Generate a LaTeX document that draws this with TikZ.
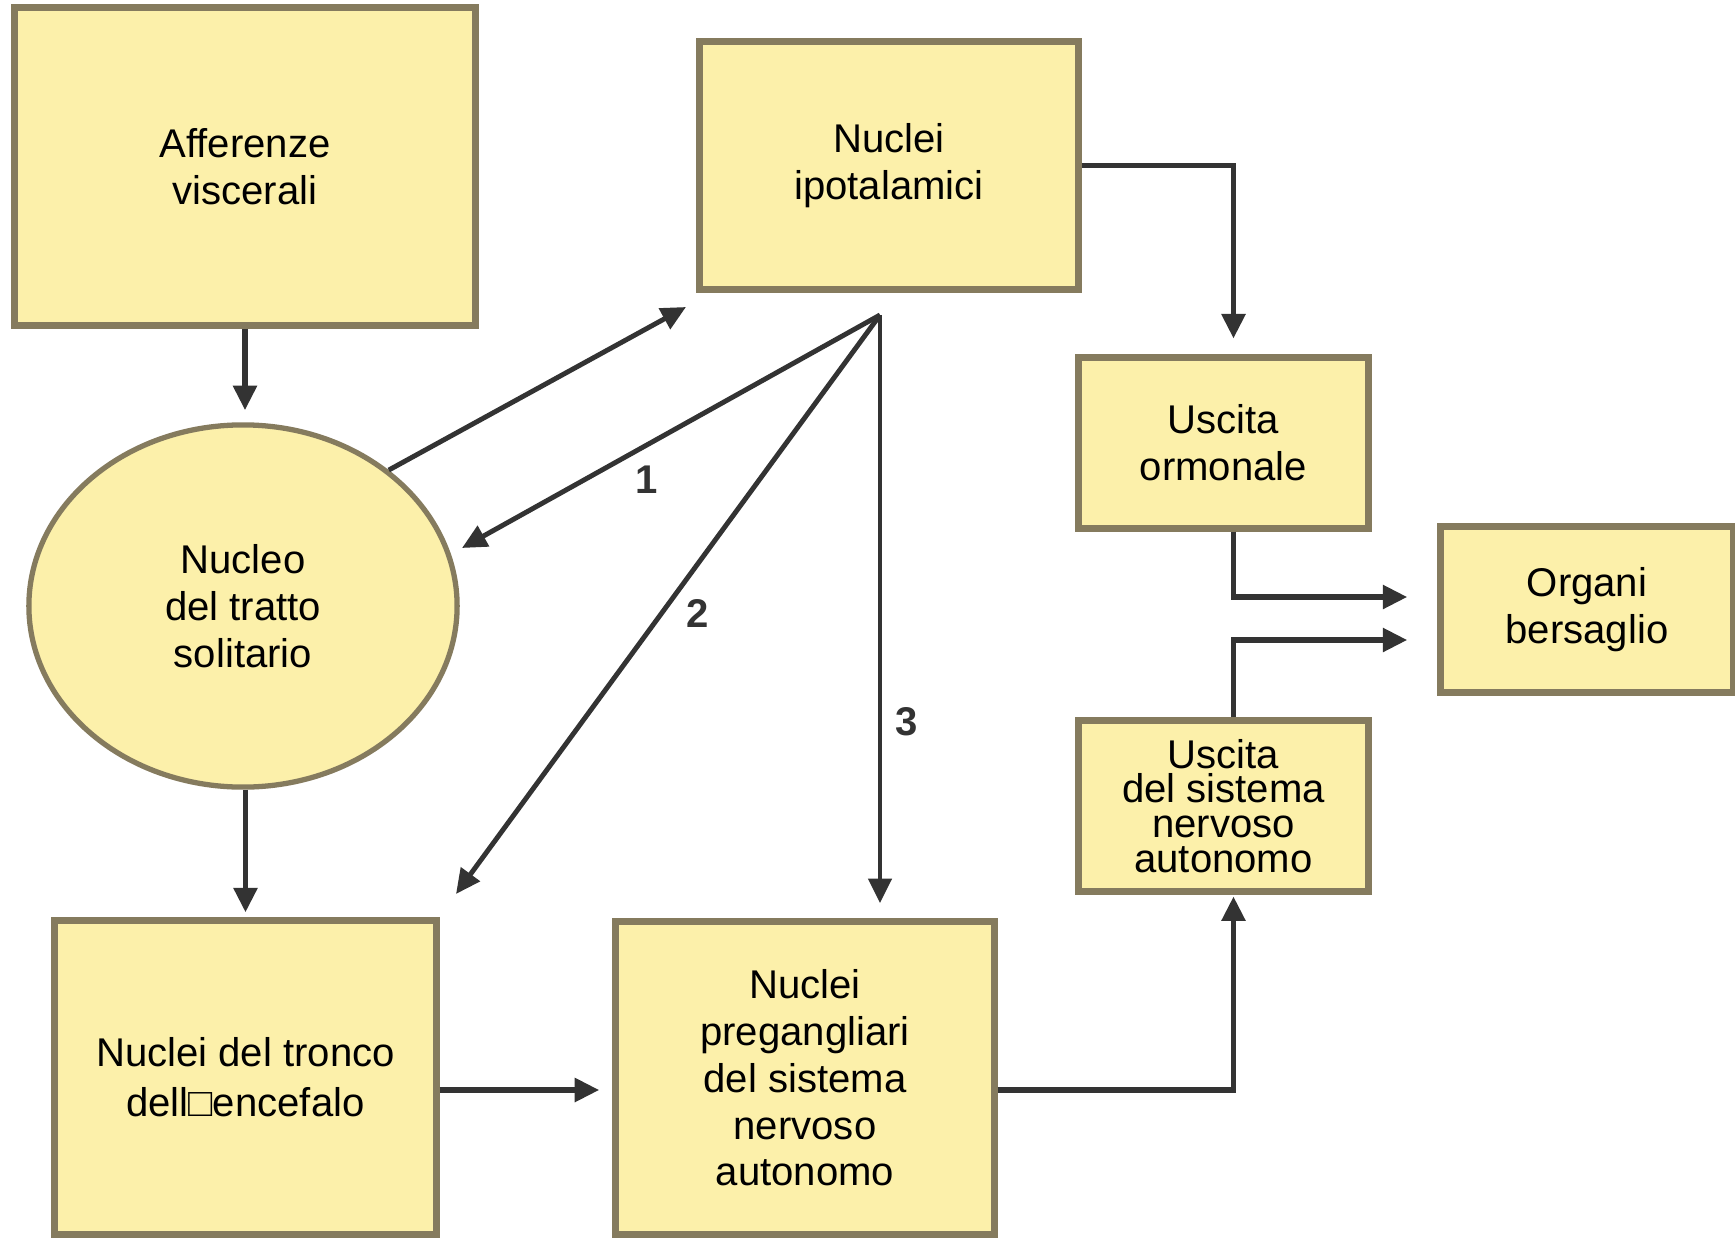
\documentclass[tikz,border=0pt]{standalone}
\usepackage{fontspec}
\setmainfont{Liberation Sans}
\usetikzlibrary{arrows.meta,calc,shapes.geometric}
\definecolor{boxfill}{HTML}{FCF0AA}
\definecolor{boxedge}{HTML}{857B5E}
\definecolor{wire}{HTML}{333333}
\begin{document}
\begin{tikzpicture}[x=0.01cm,y=-0.01cm,
  box/.style={draw=boxedge, fill=boxfill, line width=2pt, inner sep=0pt, align=center,
              font=\fontsize{11.4}{13.3}\selectfont},
  conn/.style={draw=wire, line width=1.7pt, -{Triangle[length=7pt,width=6.5pt]}},
  thinconn/.style={conn, line width=1.4pt},
  num/.style={font=\fontsize{11.4}{13}\selectfont\bfseries, text=wire, inner sep=0pt}]
\useasboundingbox (0,0) rectangle (1735,1239);

% nodes
\node[box, minimum width=4.6cm, minimum height=3.17cm] (aff) at (245,166.5) {Afferenze\\viscerali};
\node[box, minimum width=3.78cm, minimum height=2.47cm] (ipo) at (889,165.5) {Nuclei\\ipotalamici};
\node[box, ellipse, line width=1.5pt, minimum width=4.28cm, minimum height=3.62cm] (nts) at (243,606) {Nucleo\\del tratto\\solitario};
\node[box, minimum width=3.81cm, minimum height=3.13cm, font=\fontsize{11.4}{14.2}\selectfont] (tro) at (245.5,1077.5) {Nuclei del tronco\\dell□encefalo};
\node[box, minimum width=3.78cm, minimum height=3.12cm] (pre) at (805,1078) {Nuclei\\pregangliari\\del sistema\\nervoso\\autonomo};
\node[box, minimum width=2.89cm, minimum height=1.70cm] (orm) at (1223.5,443) {Uscita\\ormonale};
\node[box, minimum width=2.89cm, minimum height=1.70cm, font=\fontsize{11.4}{9.9}\selectfont] (sna) at (1223.5,806) {Uscita\\del sistema\\nervoso\\autonomo};
\node[box, minimum width=2.92cm, minimum height=1.65cm] (org) at (1587,609.5) {Organi\\bersaglio};

% free ends
\coordinate (hub) at (880,315);
\coordinate (ipoIn) at (686,307);
\coordinate (n1) at (462,548);
\coordinate (t2) at (456,894);
\coordinate (a5) at ($(tro.east)+(0,12.5)$);
\coordinate (a6) at ($(pre.east)+(0,12)$);
\coordinate (orgA) at ($(org.west)+(-30,-12.5)$);
\coordinate (orgB) at ($(org.west)+(-30,30.5)$);

% connectors
\draw[conn, shorten >=3.4pt] (aff.south) -- (aff.south |- nts.north);
\draw[conn, shorten >=1.4pt] (tro.north |- nts.south) -- (tro.north);
\draw[thinconn] (nts.43) -- (ipoIn);
\draw[thinconn] (hub) -- (n1);
\draw[thinconn] (hub) -- (t2);
\draw[thinconn, shorten >=4.3pt] (hub) -- (hub |- pre.north);
\draw[conn, shorten >=4.5pt] (ipo.east) -| ($(orm.north)+(10,0)$);
\draw[conn, shorten >=3.7pt] (a5) -- (a5 -| pre.west);
\draw[conn, shorten >=0.5pt] (a6) -| ($(sna.south)+(10,0)$);
\draw[conn] ($(orm.south)+(10,0)$) |- (orgA);
\draw[conn] ($(sna.north)+(10,0)$) |- (orgB);

% labels
\node[num] (l1) at (647,480) {1};
\node[num] (l2) at (698,613) {2};
\node[num] (l3) at (907,722) {3};
\end{tikzpicture}
\end{document}
